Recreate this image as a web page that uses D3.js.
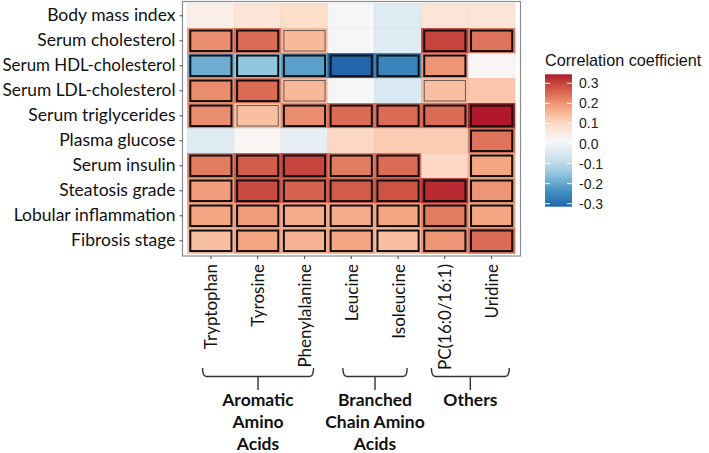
<!DOCTYPE html>
<html>
<head>
<meta charset="utf-8">
<script src="https://cdn.jsdelivr.net/npm/d3@7"></script>
<style>
  html, body { margin: 0; padding: 0; background: #fff; }
  svg { display: block; }
</style>
</head>
<body>
<svg id="chart" width="709" height="453"></svg>
<script>
// ---------------- data ----------------
const rowLabels = ["Body mass index", "Serum cholesterol", "Serum HDL-cholesterol", "Serum LDL-cholesterol",
  "Serum triglycerides", "Plasma glucose", "Serum insulin", "Steatosis grade", "Lobular inflammation", "Fibrosis stage"];
const colLabels = ["Tryptophan", "Tyrosine", "Phenylalanine", "Leucine", "Isoleucine", "PC(16:0/16:1)", "Uridine"];

// correlation coefficients, one array per row (columns in colLabels order)
const bmiVals       = [0.04, 0.07, 0.09, 0.01, -0.04, 0.07, 0.07];
const cholVals      = [0.21, 0.25, 0.15, 0.01, -0.04, 0.30, 0.24];
const hdlVals       = [-0.19, -0.15, -0.21, -0.315, -0.26, 0.20, 0.02];
const ldlVals       = [0.21, 0.25, 0.15, 0.01, -0.05, 0.14, 0.13];
const trigVals      = [0.21, 0.14, 0.21, 0.25, 0.25, 0.25, 0.345];
const glucoseVals   = [-0.04, 0.02, -0.02, 0.10, 0.12, 0.12, 0.24];
const insulinVals   = [0.23, 0.27, 0.30, 0.23, 0.25, 0.10, 0.18];
const steatosisVals = [0.19, 0.29, 0.26, 0.27, 0.28, 0.33, 0.20];
const lobularVals   = [0.18, 0.19, 0.17, 0.17, 0.18, 0.23, 0.18];
const fibrosisVals  = [0.14, 0.18, 0.16, 0.18, 0.14, 0.20, 0.25];

// significance marker: 0 = none, 1 = thin grey frame, 2 = bold black frame
const bmiSig       = [0, 0, 0, 0, 0, 0, 0];
const cholSig      = [2, 2, 1, 0, 0, 2, 2];
const hdlSig       = [2, 2, 2, 2, 2, 2, 0];
const ldlSig       = [2, 2, 1, 0, 0, 1, 0];
const trigSig      = [2, 1, 2, 2, 2, 2, 2];
const glucoseSig   = [0, 0, 0, 0, 0, 0, 2];
const insulinSig   = [2, 2, 2, 2, 2, 0, 2];
const steatosisSig = [2, 2, 2, 2, 2, 2, 2];
const lobularSig   = [2, 2, 2, 2, 2, 2, 2];
const fibrosisSig  = [2, 2, 2, 2, 2, 2, 2];

const legendTicks = [-0.3, -0.2, -0.1, 0.0, 0.1, 0.2, 0.3];
const legendTitle = "Correlation coefficient";

const groupNames = [["Aromatic", "Amino", "Acids"], ["Branched", "Chain Amino", "Acids"], ["Others"]];
const groupFirst = ["Tryptophan", "Leucine", "PC(16:0/16:1)"];
const groupLast  = ["Phenylalanine", "Isoleucine", "Uridine"];

const palette = ["#2166ac", "#4393c3", "#92c5de", "#d1e5f0", "#f7f7f7", "#fddbc7", "#f4a582", "#d6604d", "#b2182b"];

// ---------------- build ----------------
const allVals = [bmiVals, cholVals, hdlVals, ldlVals, trigVals, glucoseVals, insulinVals, steatosisVals, lobularVals, fibrosisVals];
const allSig  = [bmiSig, cholSig, hdlSig, ldlSig, trigSig, glucoseSig, insulinSig, steatosisSig, lobularSig, fibrosisSig];
const cells = [];
rowLabels.forEach((r, i) => colLabels.forEach((c, j) => cells.push({row: r, col: c, v: allVals[i][j], sig: allSig[i][j]})));

const vMin = d3.min(cells, d => d.v), vMax = d3.max(cells, d => d.v);
const color = d3.scaleLinear()
  .domain(palette.map((_, i) => vMin + i * (vMax - vMin) / (palette.length - 1)))
  .range(palette)
  .interpolate(d3.interpolateLab);

const svg = d3.select("#chart");
const panel = {x0: 182.5, x1: 520.5, y0: 1.5, y1: 256};
const x = d3.scaleBand().domain(colLabels).range([187.5, 515]);
const y = d3.scaleBand().domain(rowLabels).range([3.3, 253.3]);

const labelFont = "Lato, 'Open Sans', sans-serif";
const legendFont = "'Liberation Sans', Arial, sans-serif";

// tiles
svg.append("g").selectAll("rect").data(cells).join("rect")
  .attr("x", d => x(d.col)).attr("y", d => y(d.row))
  .attr("width", x.bandwidth()).attr("height", y.bandwidth())
  .attr("fill", d => color(d.v))
  .attr("stroke", d => d3.color(color(d.v)).darker(0.15))
  .attr("stroke-width", 0.6);

// significance frames
const fw = x.bandwidth() * 0.88, fh = y.bandwidth() * 0.82;
svg.append("g").selectAll("rect").data(cells.filter(d => d.sig > 0)).join("rect")
  .attr("x", d => x(d.col) + (x.bandwidth() - fw) / 2)
  .attr("y", d => y(d.row) + (y.bandwidth() - fh) / 2)
  .attr("width", fw).attr("height", fh)
  .attr("fill", d => color(d.v))
  .attr("stroke", d => d.sig === 2 ? "#111" : "#6b5a55")
  .attr("stroke-width", d => d.sig === 2 ? 2 : 1);

// panel border
svg.append("rect")
  .attr("x", panel.x0).attr("y", panel.y0)
  .attr("width", panel.x1 - panel.x0).attr("height", panel.y1 - panel.y0)
  .attr("fill", "none").attr("stroke", "#8c8c8c").attr("stroke-width", 1.2);

// y axis
const yAxis = svg.append("g").attr("transform", `translate(${panel.x0},0)`)
  .call(d3.axisLeft(y).tickSize(3).tickPadding(4));
yAxis.select(".domain").remove();
yAxis.selectAll(".tick line").attr("stroke", "#444");
yAxis.selectAll(".tick text").attr("font-family", labelFont).attr("font-size", 17.5).attr("fill", "#111")
  .each(function() {
    const maxW = 173;
    if (this.getComputedTextLength() > maxW) {
      d3.select(this).attr("textLength", maxW).attr("lengthAdjust", "spacingAndGlyphs");
    }
  });

// x axis
const xAxis = svg.append("g").attr("transform", `translate(0,${panel.y1})`)
  .call(d3.axisBottom(x).tickSize(3).tickPadding(5));
xAxis.select(".domain").remove();
xAxis.selectAll(".tick line").attr("stroke", "#444");
xAxis.selectAll(".tick text")
  .attr("font-family", labelFont).attr("font-size", 17).attr("fill", "#111")
  .attr("text-anchor", "end").attr("dy", null).attr("y", 0).attr("x", 0)
  .attr("dominant-baseline", "central")
  .attr("transform", "translate(0,8) rotate(-90)");

// brackets
const padL = [15, 15, 10], padR = [32.5, 32.5, 41];
const bTop = 368, bMid = 376.5, bBot = 390;
const bg = svg.append("g");
groupNames.forEach((g, i) => {
  const xa = x(groupFirst[i]) + padL[i];
  const xb = x(groupLast[i]) + padR[i];
  const xc = (xa + xb) / 2;
  bg.append("path")
    .attr("d", `M${xa},${bTop} Q${xa},${bMid} ${xa + 4},${bMid} L${xb - 4},${bMid} Q${xb},${bMid} ${xb},${bTop} M${xc},${bMid} L${xc},${bBot}`)
    .attr("fill", "none").attr("stroke", "#333").attr("stroke-width", 1.4);
  g.forEach((line, k) => {
    bg.append("text").attr("x", xc).attr("y", 406 + k * 22)
      .attr("text-anchor", "middle").attr("font-family", labelFont)
      .attr("font-weight", "bold").attr("font-size", 17.5).attr("fill", "#111")
      .text(line);
  });
});

// legend
const lg = svg.append("g");
const lx = 545, lw = 27;
const ly = d3.scaleLinear().domain([vMin, vMax]).range([206.7, 74.3]);
const grad = svg.append("defs").append("linearGradient").attr("id", "lgrad")
  .attr("x1", 0).attr("y1", 1).attr("x2", 0).attr("y2", 0);
d3.range(0, 1.0001, 0.05).forEach(t => {
  grad.append("stop").attr("offset", t).attr("stop-color", color(vMin + t * (vMax - vMin)));
});
lg.append("rect").attr("x", lx).attr("y", ly(vMax)).attr("width", lw).attr("height", ly(vMin) - ly(vMax))
  .attr("fill", "url(#lgrad)");
legendTicks.forEach(t => {
  lg.append("line").attr("x1", lx).attr("x2", lx + 5).attr("y1", ly(t)).attr("y2", ly(t))
    .attr("stroke", "#fff").attr("stroke-width", 1);
  lg.append("line").attr("x1", lx + lw - 5).attr("x2", lx + lw).attr("y1", ly(t)).attr("y2", ly(t))
    .attr("stroke", "#fff").attr("stroke-width", 1);
  lg.append("text").attr("x", 579).attr("y", ly(t)).attr("dominant-baseline", "central")
    .attr("font-family", legendFont).attr("font-size", 14).attr("fill", "#222")
    .text(t.toFixed(1));
});
lg.append("text").attr("x", lx).attr("y", 60).attr("dominant-baseline", "central")
  .attr("font-family", legendFont).attr("font-size", 16.2).attr("fill", "#111")
  .text(legendTitle);
</script>
</body>
</html>
